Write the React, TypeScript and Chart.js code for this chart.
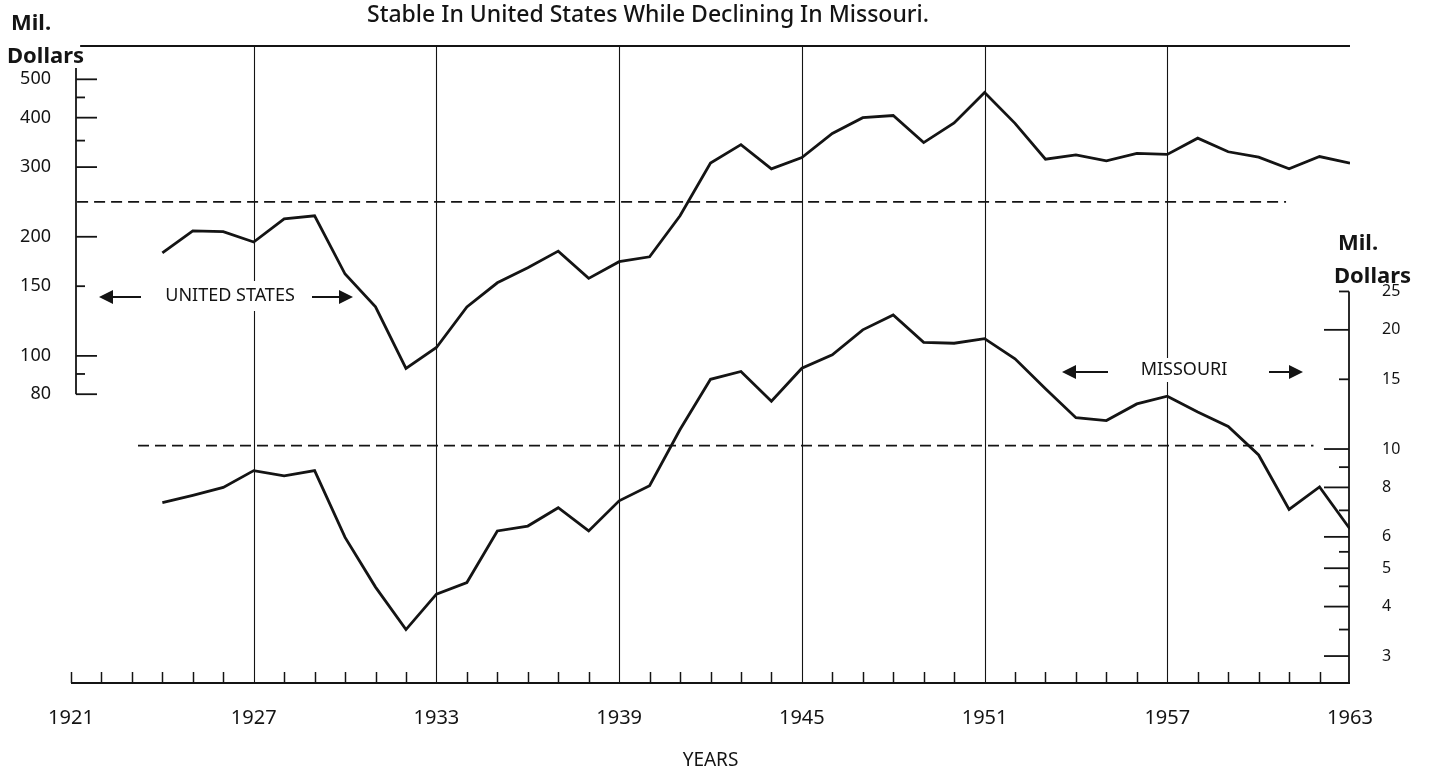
import React, { useEffect, useRef } from "react";
import { Chart, registerables } from "chart.js";

Chart.register(...registerables);

// ---------- data ----------
const years = [
  1924, 1925, 1926, 1927, 1928, 1929, 1930, 1931, 1932, 1933,
  1934, 1935, 1936, 1937, 1938, 1939, 1940, 1941, 1942, 1943,
  1944, 1945, 1946, 1947, 1948, 1949, 1950, 1951, 1952, 1953,
  1954, 1955, 1956, 1957, 1958, 1959, 1960, 1961, 1962, 1963,
];
// United States, million dollars (left scale)
const usValues = [
  182, 207, 206, 194, 222, 226, 161, 133, 93, 105,
  133, 153, 167, 184, 157, 173, 178, 226, 307, 342,
  297, 317, 365, 400, 405, 346, 388, 463, 387, 314,
  322, 311, 325, 323, 355, 328, 318, 297, 319, 307,
];
// Missouri, million dollars (right scale)
const moValues = [
  7.32, 7.64, 8.0, 8.82, 8.56, 8.82, 5.98, 4.48, 3.5, 4.3,
  4.6, 6.21, 6.39, 7.11, 6.21, 7.4, 8.08, 11.2, 15.0, 15.7,
  13.2, 16.0, 17.3, 20.0, 21.8, 18.6, 18.5, 19.0, 16.9, 14.2,
  12.0, 11.8, 13.0, 13.6, 12.4, 11.4, 9.66, 7.04, 8.02, 6.28,
];
// dashed reference levels
const usLevel = 245;
const usLevelYears = [1921.2, 1960.9];
const moLevel = 10.2;
const moLevelYears = [1923.2, 1961.8];

// axes
const xMin = 1921;
const xMax = 1963;
const xTickYears = [1921, 1927, 1933, 1939, 1945, 1951, 1957, 1963];
const gridYears = [1927, 1933, 1939, 1945, 1951, 1957];
const usMin = 14.9;
const usMax = 607;
const usTickLabels = [80, 100, 150, 200, 300, 400, 500];
const usLongTicks = [80, 100, 200, 300, 400, 500];
const usShortTicks = [90, 150, 350, 450];
const moMin = 2.565;
const moMax = 104.2;
const moTickLabels = [3, 4, 5, 6, 8, 10, 15, 20, 25];
const moLongTicks = [3, 4, 5, 6, 8, 10, 20];
const moShortTicks = [3.5, 4.5, 5.5, 7, 9, 15, 25];

// texts
const titleText = "Stable In United States While Declining In Missouri.";
const unitLine1 = "Mil.";
const unitLine2 = "Dollars";
const xAxisTitle = "YEARS";
const usLabel = "UNITED STATES";
const moLabel = "MISSOURI";

const INK = "#141414";
const FONT = "'Noto Sans', 'DejaVu Sans', sans-serif";

function drawArrow(ctx: CanvasRenderingContext2D, tailX: number, tipX: number, y: number) {
  const dir = Math.sign(tipX - tailX);
  const headLen = 14;
  const headHalf = 7;
  ctx.beginPath();
  ctx.moveTo(tailX, y);
  ctx.lineTo(tipX - dir * headLen, y);
  ctx.stroke();
  ctx.beginPath();
  ctx.moveTo(tipX, y);
  ctx.lineTo(tipX - dir * headLen, y - headHalf);
  ctx.lineTo(tipX - dir * headLen, y + headHalf);
  ctx.closePath();
  ctx.fill();
}

function labelWithBg(ctx: CanvasRenderingContext2D, text: string, cx: number, cy: number, font: string, halfH: number) {
  ctx.font = font;
  const w = ctx.measureText(text).width;
  ctx.fillStyle = "#ffffff";
  ctx.fillRect(cx - w / 2 - 5, cy - halfH, w + 10, halfH * 2);
  ctx.fillStyle = INK;
  ctx.textAlign = "center";
  ctx.textBaseline = "middle";
  ctx.fillText(text, cx, cy);
}

const decorPlugin = {
  id: "decor",
  beforeDatasetsDraw(chart: any) {
    const { ctx, chartArea: ca, scales } = chart;
    const x = scales.x;
    const yu = scales.yUS;
    const ym = scales.yMO;
    ctx.save();
    ctx.strokeStyle = INK;
    ctx.fillStyle = INK;
    ctx.lineCap = "butt";

    // vertical grid lines
    ctx.lineWidth = 1.1;
    gridYears.forEach((yr) => {
      const px = Math.round(x.getPixelForValue(yr)) + 0.5;
      ctx.beginPath();
      ctx.moveTo(px, ca.top);
      ctx.lineTo(px, ca.bottom);
      ctx.stroke();
    });

    // top border
    ctx.lineWidth = 1.8;
    ctx.beginPath();
    ctx.moveTo(x.getPixelForValue(1921.3), ca.top);
    ctx.lineTo(ca.right, ca.top);
    ctx.stroke();

    // bottom axis + yearly ticks
    ctx.beginPath();
    ctx.moveTo(ca.left, ca.bottom);
    ctx.lineTo(ca.right, ca.bottom);
    ctx.stroke();
    ctx.lineWidth = 1.5;
    for (let yr = xMin; yr < xMax; yr++) {
      if (gridYears.indexOf(yr) >= 0) continue;
      const px = Math.round(x.getPixelForValue(yr)) + 0.5;
      ctx.beginPath();
      ctx.moveTo(px, ca.bottom);
      ctx.lineTo(px, ca.bottom - 11);
      ctx.stroke();
    }

    // left (US) axis
    const lx = ca.left + 5;
    ctx.lineWidth = 1.8;
    ctx.beginPath();
    ctx.moveTo(lx, 68);
    ctx.lineTo(lx, yu.getPixelForValue(80));
    ctx.stroke();
    usLongTicks.forEach((v) => {
      const py = yu.getPixelForValue(v);
      ctx.beginPath();
      ctx.moveTo(lx, py);
      ctx.lineTo(lx + 21, py);
      ctx.stroke();
    });
    usShortTicks.forEach((v) => {
      const py = yu.getPixelForValue(v);
      ctx.beginPath();
      ctx.moveTo(lx, py);
      ctx.lineTo(lx + 9, py);
      ctx.stroke();
    });

    // right (Missouri) axis
    const rx = ca.right - 1;
    ctx.beginPath();
    ctx.moveTo(rx, ym.getPixelForValue(25));
    ctx.lineTo(rx, ca.bottom);
    ctx.stroke();
    moLongTicks.forEach((v) => {
      const py = ym.getPixelForValue(v);
      ctx.beginPath();
      ctx.moveTo(rx, py);
      ctx.lineTo(rx - 25, py);
      ctx.stroke();
    });
    moShortTicks.forEach((v) => {
      const py = ym.getPixelForValue(v);
      ctx.beginPath();
      ctx.moveTo(rx, py);
      ctx.lineTo(rx - 10, py);
      ctx.stroke();
    });

    // title (second line of original heading)
    ctx.fillStyle = INK;
    ctx.textAlign = "center";
    ctx.textBaseline = "alphabetic";
    ctx.font = `500 23px ${FONT}`;
    ctx.fillText(titleText, 648, 22);

    // unit labels
    ctx.textAlign = "left";
    ctx.font = `bold 22px ${FONT}`;
    ctx.fillText(unitLine1, 11, 30);
    ctx.fillText(unitLine2, 7, 63);
    ctx.fillText(unitLine1, 1338, 250);
    ctx.fillText(unitLine2, 1334, 283);

    // series labels with arrows
    labelWithBg(ctx, usLabel, 230, 296, `18px ${FONT}`, 15);
    labelWithBg(ctx, moLabel, 1184, 370, `18px ${FONT}`, 12);
    ctx.fillStyle = INK;
    ctx.lineWidth = 2;
    drawArrow(ctx, 141, 99, 297);
    drawArrow(ctx, 312, 353, 297);
    drawArrow(ctx, 1108, 1062, 372);
    drawArrow(ctx, 1269, 1303, 372);

    ctx.restore();
  },
};

export default function App() {
  const ref = useRef<HTMLCanvasElement | null>(null);

  useEffect(() => {
    document.body.style.margin = "0";
    document.body.style.overflow = "hidden";
    document.body.style.background = "#ffffff";
    if (!ref.current) return;

    const usPoints = years.map((yr, i) => ({ x: yr, y: usValues[i] }));
    const moPoints = years.map((yr, i) => ({ x: yr, y: moValues[i] }));
    const usLevelPoints = usLevelYears.map((yr) => ({ x: yr, y: usLevel }));
    const moLevelPoints = moLevelYears.map((yr) => ({ x: yr, y: moLevel }));

    const chart = new Chart(ref.current, {
      type: "line",
      data: {
        datasets: [
          {
            label: "United States",
            data: usPoints,
            yAxisID: "yUS",
            borderColor: INK,
            borderWidth: 2.8,
            pointRadius: 0,
            tension: 0,
          },
          {
            label: "Missouri",
            data: moPoints,
            yAxisID: "yMO",
            borderColor: INK,
            borderWidth: 2.8,
            pointRadius: 0,
            tension: 0,
          },
          {
            label: "United States level",
            data: usLevelPoints,
            yAxisID: "yUS",
            borderColor: INK,
            borderWidth: 1.7,
            borderDash: [11, 6],
            pointRadius: 0,
          },
          {
            label: "Missouri level",
            data: moLevelPoints,
            yAxisID: "yMO",
            borderColor: INK,
            borderWidth: 1.7,
            borderDash: [11, 6],
            pointRadius: 0,
          },
        ],
      },
      options: {
        animation: false,
        responsive: true,
        maintainAspectRatio: false,
        layout: { padding: { top: 46, left: 0, right: 0, bottom: 0 } },
        plugins: {
          legend: { display: false },
          tooltip: { enabled: false },
          title: { display: false },
        },
        events: [],
        scales: {
          x: {
            type: "linear",
            position: "bottom",
            min: xMin,
            max: xMax,
            grid: { display: false, drawTicks: false },
            border: { display: false },
            afterBuildTicks: (scale: any) => {
              scale.ticks = xTickYears.map((v) => ({ value: v }));
            },
            afterFit: (scale: any) => {
              scale.height = 89;
            },
            ticks: {
              autoSkip: false,
              maxRotation: 0,
              padding: 23,
              color: INK,
              font: { family: FONT, size: 20 },
              callback: (v: any) => String(v),
            },
            title: {
              display: true,
              text: xAxisTitle,
              color: INK,
              font: { family: FONT, size: 19 },
              padding: { top: 0, bottom: 0 },
            },
          },
          yUS: {
            type: "logarithmic",
            position: "left",
            min: usMin,
            max: usMax,
            grid: { display: false, drawTicks: false },
            border: { display: false },
            afterBuildTicks: (scale: any) => {
              scale.ticks = usTickLabels.map((v) => ({ value: v }));
            },
            afterFit: (scale: any) => {
              scale.width = 71;
            },
            ticks: {
              autoSkip: false,
              padding: 20,
              color: INK,
              font: { family: FONT, size: 18 },
              callback: (v: any) => String(v),
            },
          },
          yMO: {
            type: "logarithmic",
            position: "right",
            min: moMin,
            max: moMax,
            grid: { display: false, drawTicks: false },
            border: { display: false },
            afterBuildTicks: (scale: any) => {
              scale.ticks = moTickLabels.map((v) => ({ value: v }));
            },
            afterFit: (scale: any) => {
              scale.width = 79;
            },
            ticks: {
              autoSkip: false,
              padding: 32,
              color: INK,
              font: { family: FONT, size: 16 },
              callback: (v: any) => String(v),
            },
          },
        },
      },
      plugins: [decorPlugin],
    } as any);

    return () => chart.destroy();
  }, []);

  return (
    <div style={{ position: "relative", width: 1429, height: 772 }}>
      <canvas ref={ref} />
    </div>
  );
}
